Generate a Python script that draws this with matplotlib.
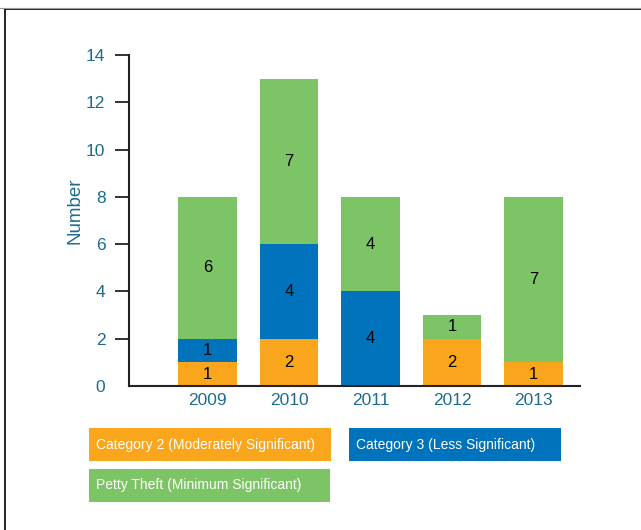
import matplotlib.pyplot as plt
from matplotlib.patches import Rectangle
from matplotlib.lines import Line2D

years = ["2009", "2010", "2011", "2012", "2013"]
cat2 = [1, 2, 0, 2, 1]
cat3 = [1, 4, 4, 0, 0]
petty = [6, 7, 4, 1, 7]
series_names = ["Category 2 (Moderately Significant)",
                "Category 3 (Less Significant)",
                "Petty Theft (Minimum Significant)"]
colors = ["#F9A61C", "#0073BC", "#7DC467"]
teal = "#1F6B8E"

plt.rcParams['font.family'] = ['Liberation Sans', 'DejaVu Sans']

W, H = 641, 530
fig = plt.figure(figsize=(W / 100, H / 100), dpi=100)
ax = fig.add_axes([129 / W, 1 - 386 / H, (580 - 129) / W, (386 - 55) / H])

x = list(range(len(years)))
bottom = [0] * len(years)
for vals, col in zip([cat2, cat3, petty], colors):
    ax.bar(x, vals, width=0.72, bottom=bottom, color=col, linewidth=0)
    for i, v in enumerate(vals):
        if v > 0:
            ax.text(i, bottom[i] + v / 2, str(v), ha='center', va='center',
                    fontsize=12, color='black')
    bottom = [b + v for b, v in zip(bottom, vals)]

ax.set_ylim(0, 14)
ax.set_xlim(-0.965, 4.57)
ax.set_yticks(range(0, 15, 2))
ax.set_xticks(x)
ax.set_xticklabels(years)
ax.tick_params(axis='y', direction='out', length=10, width=1.3,
               colors='#222222', labelcolor=teal, labelsize=12.5, pad=7)
ax.tick_params(axis='x', length=0, labelcolor=teal, labelsize=12.5, pad=5)
ax.get_yticklines()[0].set_visible(False)
for s in ['top', 'right']:
    ax.spines[s].set_visible(False)
for s in ['left', 'bottom']:
    ax.spines[s].set_color('#222222')
    ax.spines[s].set_linewidth(1.5)
ax.set_ylabel("Number", color=teal, fontsize=13.5)
ax.yaxis.set_label_coords(-0.1, 0.53)

# legend boxes
boxes = [(89, 428, 242, 33), (349, 428, 212, 33), (89, 469, 241, 33)]
for (bx, by, bw, bh), name, col in zip(boxes, series_names, colors):
    fig.patches.append(Rectangle((bx / W, 1 - (by + bh) / H), bw / W, bh / H,
                                 transform=fig.transFigure, color=col, lw=0))
    fig.text((bx + 7) / W, 1 - (by + bh / 2) / H, name, color='white',
             fontsize=10, ha='left', va='center')

# frame
fig.add_artist(Line2D([5 / W, 5 / W], [0, 1 - 9 / H], color='black', lw=1.2,
                      transform=fig.transFigure))
fig.add_artist(Line2D([5 / W, 1], [1 - 9 / H, 1 - 9 / H], color='black', lw=1.2,
                      transform=fig.transFigure))
fig.add_artist(Line2D([0, 1], [1 - 8 / H, 1 - 8 / H], color='#999999', lw=0.8,
                      transform=fig.transFigure))

fig.savefig("out.png", dpi=100)
